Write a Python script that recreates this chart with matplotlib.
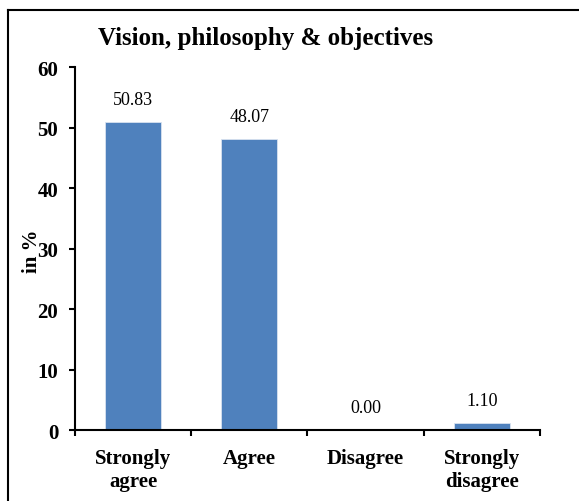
import matplotlib.pyplot as plt
import numpy as np
from matplotlib.lines import Line2D

categories = ["Strongly\nagree", "Agree", "Disagree", "Strongly\ndisagree"]
percent = [50.83, 48.07, 0.00, 1.10]
yticks = [0, 10, 20, 30, 40, 50, 60]

plt.rcParams["font.family"] = ["Liberation Serif", "DejaVu Serif"]

fig = plt.figure(figsize=(5.79, 5.02), dpi=100)
ax = fig.add_axes([0.1295, 0.1414, 0.8031, 0.7231])

x = np.arange(len(categories))
bars = ax.bar(x, percent, width=0.48, color="#4F81BD", edgecolor="#D9E2F0", linewidth=0.6)

for xi, v in zip(x, percent):
    ax.annotate(f"{v:.2f}", (xi, v), xytext=(0, 13), textcoords="offset points",
                ha="center", va="baseline", fontsize=13)

ax.set_xlim(-0.5, len(categories) - 0.5)
ax.set_ylim(0, 60)
ax.set_yticks(yticks)
ax.set_yticklabels([str(t) for t in yticks], fontsize=15, fontweight="bold")

# ticks sit on category boundaries, labels go between them
ax.set_xticks(np.arange(len(categories) + 1) - 0.5)
ax.set_xticklabels([])
ax.set_xticks(x, minor=True)
ax.set_xticklabels(categories, minor=True, fontsize=15, fontweight="bold", linespacing=1.2)
ax.tick_params(axis="x", which="minor", length=0, pad=13)
ax.tick_params(axis="x", which="major", direction="out", length=4, width=1.5)
ax.tick_params(axis="y", direction="out", length=4, width=1.5, pad=8)

for side in ["top", "right"]:
    ax.spines[side].set_visible(False)
for side in ["left", "bottom"]:
    ax.spines[side].set_linewidth(1.5)

fig.text(0.459, 0.910, "Vision, philosophy & objectives", ha="center", va="baseline",
         fontsize=18, fontweight="bold")
fig.text(0.056, 0.5, "in %", rotation=90, ha="center", va="center",
         fontsize=15, fontweight="bold")

# chart frame
fig.add_artist(Line2D([8 / 579, 1.0], [1 - 11 / 502] * 2, transform=fig.transFigure,
                      color="black", linewidth=1.5))
fig.add_artist(Line2D([8 / 579] * 2, [0.0, 1 - 11 / 502], transform=fig.transFigure,
                      color="black", linewidth=1.5))

fig.savefig("out.png", dpi=100)
